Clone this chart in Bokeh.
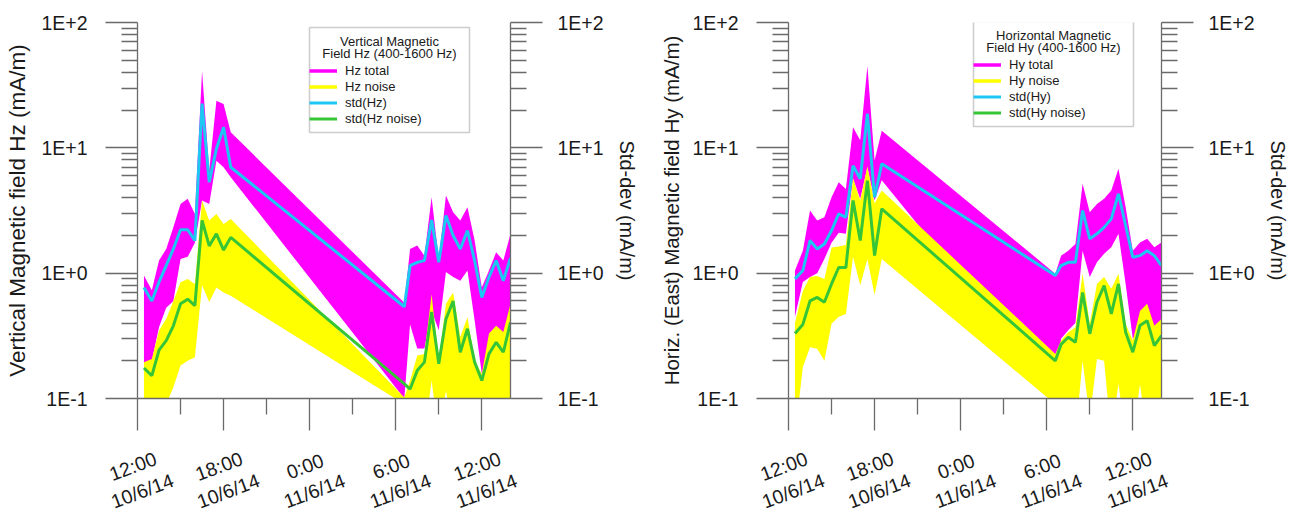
from bokeh.plotting import figure
from bokeh.models import FixedTicker, LogAxis, Legend, LegendItem, Label, Range1d, BoxAnnotation
from bokeh.layouts import row, column
from bokeh.core.properties import value
from bokeh.embed import file_html
from bokeh.resources import INLINE

# ---------------- data (hours after 12:00 10/6/14) ----------------
hours = [0.45, 1.0, 1.5, 2.0, 2.5, 3.0, 3.5, 4.0, 4.5, 5.0, 5.5, 6.0, 6.5,
         18.6, 19.0, 19.5, 20.0, 20.5, 21.0, 21.5, 22.0, 22.5, 23.0, 23.5,
         24.0, 24.5, 25.0, 25.5, 26.0]

# Vertical field Hz (mA/m)
hz_total_hi = [0.96, 0.73, 1.26, 1.56, 2.32, 3.57, 3.92, 2.97, 41.0, 6.6, 23.8, 22.4, 13.3,
               0.58, 1.56, 1.66, 1.38, 4.03, 1.3, 4.16, 3.06, 2.63, 3.36, 1.82,
               0.77, 1.05, 1.47, 1.26, 2.06]
hz_total_lo = [0.19, 0.2, 0.37, 0.53, 0.6, 1.3, 1.35, 1.75, 3.8, 3.57, 7.9, 7.0, 5.83,
               0.1, 0.39, 0.25, 0.25, 0.5, 0.35, 1.02, 0.93, 0.87, 1.05, 0.42,
               0.157, 0.2, 0.25, 0.25, 0.3]
hz_noise_hi = [0.195, 0.207, 0.348, 0.43, 0.6, 0.846, 0.9, 0.82, 3.8, 2.63, 2.97, 2.47, 2.71,
               0.102, 0.139, 0.22, 0.227, 0.68, 0.2, 0.57, 0.70, 0.31, 0.445, 0.2,
               0.157, 0.33, 0.38, 0.34, 0.57]
hz_noise_lo = [0.05, 0.05, 0.05, 0.09, 0.123, 0.183, 0.2, 0.213, 0.8, 0.59, 0.77, 0.7, 0.66,
               0.09, 0.05, 0.05, 0.05, 0.139, 0.05, 0.116, 0.05, 0.05, 0.05, 0.05,
               0.05, 0.05, 0.05, 0.05, 0.05]
hz_std = [0.77, 0.60, 0.85, 1.15, 1.56, 2.22, 2.22, 1.82, 22.5, 5.33, 9.8, 14.6, 7.0,
          0.54, 1.15, 1.22, 1.26, 2.66, 1.22, 2.88, 2.0, 1.56, 2.19, 1.26,
          0.64, 0.93, 1.26, 0.87, 1.32]
hz_noise_std = [0.175, 0.152, 0.243, 0.29, 0.38, 0.57, 0.62, 0.55, 2.64, 1.65, 2.06, 1.53, 1.93,
                0.131, 0.119, 0.167, 0.195, 0.49, 0.189, 0.43, 0.60, 0.234, 0.36, 0.195,
                0.139, 0.227, 0.281, 0.234, 0.406]

# Horizontal (East) field Hy (mA/m)
hy_total_hi = [1.05, 1.51, 3.16, 2.63, 2.79, 4.03, 5.31, 4.7, 14.6, 11.5, 45.0, 7.93, 13.7,
               0.99, 1.38, 1.51, 1.71, 5.16, 3.06, 3.57, 3.92, 4.56, 6.8, 3.36,
               1.51, 1.76, 1.88, 1.61, 1.76]
hy_total_lo = [0.45, 0.85, 0.93, 1.0, 1.3, 1.75, 2.1, 2.06, 5.7, 3.9, 7.0, 3.8, 5.5,
               0.11, 0.3, 0.35, 0.4, 1.51, 0.93, 1.22, 1.43, 1.61, 2.06, 0.82,
               0.3, 0.35, 0.4, 0.3, 0.35]
hy_noise_hi = [0.4, 0.72, 0.93, 0.95, 0.9, 1.6, 1.63, 1.68, 5.7, 3.8, 7.1, 3.6, 4.56,
               0.227, 0.29, 0.338, 0.37, 0.99, 0.394, 0.82, 0.93, 0.75, 0.99, 0.394,
               0.29, 0.50, 0.57, 0.38, 0.43]
hy_noise_lo = [0.05, 0.178, 0.256, 0.249, 0.2, 0.394, 0.45, 0.473, 1.35, 0.8, 1.3, 0.67, 1.3,
               0.09, 0.05, 0.05, 0.05, 0.2, 0.07, 0.207, 0.2, 0.05, 0.131, 0.05,
               0.05, 0.13, 0.05, 0.05, 0.05]
hy_std = [0.90, 1.05, 1.82, 1.56, 1.71, 2.19, 2.97, 2.79, 7.2, 5.66, 18.7, 4.03, 7.45,
          0.957, 1.15, 1.22, 1.22, 3.16, 1.88, 2.06, 2.32, 2.71, 4.3, 2.4,
          1.34, 1.38, 1.51, 1.38, 1.15]
hy_noise_std = [0.33, 0.39, 0.60, 0.64, 0.586, 0.82, 1.11, 1.11, 3.8, 1.82, 5.48, 1.38, 3.26,
                0.2, 0.27, 0.308, 0.281, 0.70, 0.328, 0.586, 0.796, 0.473, 0.82, 0.338,
                0.234, 0.382, 0.418, 0.264, 0.318]

x_ticks = [0, 6, 12, 18, 24]
x_minor = [3, 9, 15, 21]
x_labels = ["12:00\n10/6/14", "18:00\n10/6/14", "0:00\n11/6/14", "6:00\n11/6/14", "12:00\n11/6/14"]
y_ticks = [0.1, 1, 10, 100]
y_minor = [m * d for d in (0.1, 1, 10) for m in range(2, 10)]
y_labels = ["1E-1", "1E+0", "1E+1", "1E+2"]

FONT = "Liberation Sans"
MAGENTA = "#FF00FF"
YELLOW = "#FFFF00"
CYAN = "#1EC6F2"
GREEN = "#36C536"
AX = "#6a6a6a"
TXT = "#1a1a1a"

X_START, X_END = 0, 26
FRAME_W, FRAME_H = 373, 376
PX_PER_H = FRAME_W / (X_END - X_START)
TOP, BOTTOM = 22, 34
LAB_H = 81
LAB_Y = 35             # text-block centre, px above the strip bottom
LAB_LEFT = 95          # left border of the tick-label strip
LAB_W = 435


def style_axis(ax, label_size="19.5px"):
    ax.axis_line_color = AX
    ax.axis_line_width = 1.3
    ax.major_tick_line_color = AX
    ax.minor_tick_line_color = AX
    ax.major_tick_line_width = 1.3
    ax.minor_tick_line_width = 1.3
    ax.major_tick_in = 0
    ax.major_tick_out = 32
    ax.minor_tick_in = 0
    ax.minor_tick_out = 16
    ax.major_label_text_font = FONT
    ax.major_label_text_font_size = label_size
    ax.major_label_text_color = TXT
    ax.axis_label_text_font = FONT
    ax.axis_label_text_font_style = "normal"
    ax.axis_label_text_color = TXT


def make_fig(tot_hi, tot_lo, noi_hi, noi_lo, std_t, std_n, names, title_lines,
             ylabel, ylabel_size, ylabel_standoff, box, legend_y, title_y, mbl, mbr):
    p = figure(frame_width=FRAME_W, frame_height=FRAME_H,
               x_range=Range1d(X_START, X_END), y_range=Range1d(0.1, 100),
               y_axis_type="log", output_backend="svg", toolbar_location=None,
               min_border_left=mbl, min_border_right=mbr,
               min_border_top=TOP, min_border_bottom=BOTTOM)
    p.outline_line_color = None
    p.grid.visible = False

    p.varea(x=hours, y1=tot_lo, y2=tot_hi, fill_color=MAGENTA)
    p.varea(x=hours, y1=noi_lo, y2=noi_hi, fill_color=YELLOW)
    key_tot = p.line(hours, tot_hi, line_color=MAGENTA, line_width=3.5, visible=False)
    key_noi = p.line(hours, noi_hi, line_color=YELLOW, line_width=3.5, visible=False)
    r_std = p.line(hours, std_t, line_color=CYAN, line_width=3)
    r_stdn = p.line(hours, std_n, line_color=GREEN, line_width=3)

    xa = p.xaxis[0]
    xa.ticker = FixedTicker(ticks=x_ticks, minor_ticks=x_minor)
    xa.major_label_overrides = {t: "" for t in x_ticks}
    style_axis(xa, "1px")
    xa.major_label_standoff = 0

    ya = p.yaxis[0]
    ya.ticker = FixedTicker(ticks=y_ticks, minor_ticks=y_minor)
    ya.major_label_overrides = dict(zip(y_ticks, y_labels))
    ya.axis_label = ylabel
    style_axis(ya)
    ya.axis_label_text_font_size = ylabel_size
    ya.major_label_standoff = 18
    ya.axis_label_standoff = ylabel_standoff

    ra = LogAxis(ticker=FixedTicker(ticks=y_ticks, minor_ticks=y_minor),
                 major_label_overrides=dict(zip(y_ticks, y_labels)),
                 axis_label="Std-dev (mA/m)")
    style_axis(ra)
    ra.axis_label_text_font_size = "20px"
    ra.major_label_standoff = 15
    ra.axis_label_standoff = 9
    p.add_layout(ra, "right")

    bl, br, bb, bt = box
    p.add_layout(BoxAnnotation(left=bl, right=br, bottom=bb, top=bt,
                               left_units="screen", right_units="screen",
                               bottom_units="screen", top_units="screen",
                               fill_color="white", fill_alpha=1.0,
                               line_color="#555555", line_width=1.5))
    leg = Legend(items=[LegendItem(label=names[0], renderers=[key_tot]),
                        LegendItem(label=names[1], renderers=[key_noi]),
                        LegendItem(label=names[2], renderers=[r_std]),
                        LegendItem(label=names[3], renderers=[r_stdn])],
                 location=(bl, legend_y), title=" ",
                 title_text_font_size="20px", title_standoff=3,
                 label_text_font=FONT, label_text_font_size="13px",
                 label_text_color=TXT,
                 glyph_width=28, glyph_height=15, label_height=15,
                 label_width=108, label_standoff=8, spacing=1, padding=8,
                 border_line_color=None, background_fill_alpha=0.0)
    p.add_layout(leg)
    cx = (bl + br) / 2
    for i, t in enumerate(title_lines):
        p.add_layout(Label(x=cx, y=title_y - 12 * i, x_units="screen", y_units="screen",
                           text=t, text_align="center", text_baseline="middle",
                           text_font=FONT, text_font_size="13px", text_color=TXT,
                           level="overlay"))
    return p


def make_labels(mbl, total_w):
    # strip under a chart carrying its rotated two-line time labels, same hour scale
    start = X_START - (mbl - LAB_LEFT) / PX_PER_H
    end = start + LAB_W / PX_PER_H
    q = figure(frame_width=LAB_W, frame_height=LAB_H,
               x_range=Range1d(start, end), y_range=Range1d(0, LAB_H),
               output_backend="svg", toolbar_location=None,
               x_axis_location=None, y_axis_location=None,
               min_border_left=LAB_LEFT, min_border_right=total_w - LAB_LEFT - LAB_W,
               min_border_top=0, min_border_bottom=0)
    q.outline_line_color = None
    q.grid.visible = False
    q.text(x=x_ticks, y=[LAB_Y] * len(x_ticks), text=x_labels, angle=0.36,
           text_align="center", text_baseline="middle", text_line_height=1.2,
           text_font=value(FONT), text_font_size="19.5px", text_color=TXT)
    return q


MBL1, MBR1, MBL2, MBR2 = 137, 140, 138, 135
p1 = make_fig(hz_total_hi, hz_total_lo, hz_noise_hi, hz_noise_lo, hz_std, hz_noise_std,
              ["Hz total", "Hz noise", "std(Hz)", "std(Hz noise)"],
              ["Vertical Magnetic", "Field Hz (400-1600 Hz)"],
              "Vertical Magnetic field Hz (mA/m)", "22.5px", 8,
              (172, 332, 266, 371), 272, 357, MBL1, MBR1)
p2 = make_fig(hy_total_hi, hy_total_lo, hy_noise_hi, hy_noise_lo, hy_std, hy_noise_std,
              ["Hy total", "Hy noise", "std(Hy)", "std(Hy noise)"],
              ["Horizontal Magnetic", "Field Hy (400-1600 Hz)"],
              "Horiz. (East) Magnetic field Hy (mA/m)", "20.5px", 6,
              (185, 345, 272, 377), 278, 363, MBL2, MBR2)
q1 = make_labels(MBL1, MBL1 + FRAME_W + MBR1)
q2 = make_labels(MBL2, MBL2 + FRAME_W + MBR2)

layout = column(row(p1, p2), row(q1, q2))
open("out.html", "w").write(file_html(layout, INLINE))
